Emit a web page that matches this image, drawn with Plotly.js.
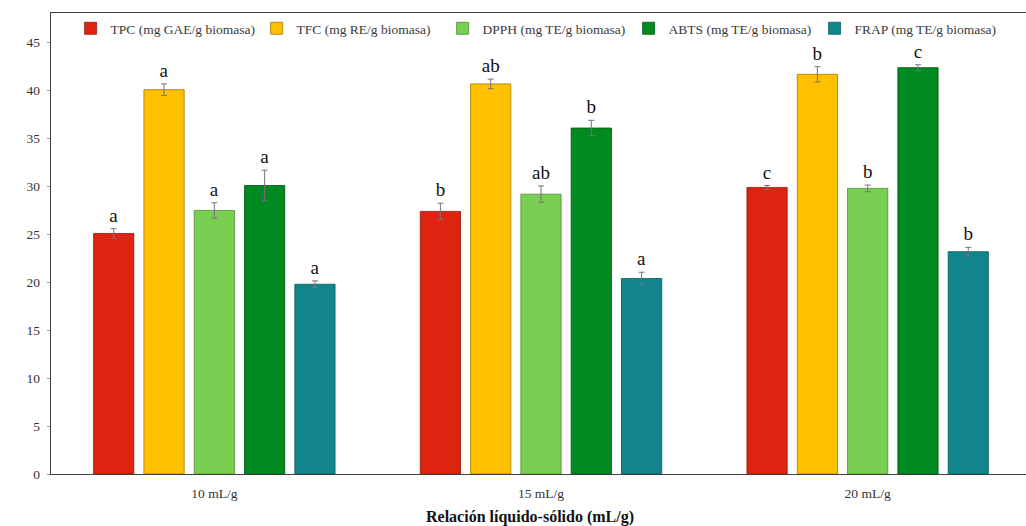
<!DOCTYPE html>
<html>
<head>
<meta charset="utf-8">
<script src="https://cdn.plot.ly/plotly-3.0.1.min.js"></script>
<style>
  html, body { margin: 0; padding: 0; background: #ffffff; overflow: hidden; }
  #chart { width: 1040px; height: 526px; }
</style>
</head>
<body>
<div id="chart"></div>
<script>
// Liquid-solid ratio levels
const categories = ['10 mL/g', '15 mL/g', '20 mL/g'];

// Series names
const seriesNames = [
  'TPC (mg GAE/g biomasa)',
  'TFC (mg RE/g biomasa)',
  'DPPH (mg TE/g biomasa)',
  'ABTS (mg TE/g biomasa)',
  'FRAP (mg TE/g biomasa)'
];

// Mean values per series (10, 15, 20 mL/g)
const tpc  = [25.1, 27.4, 29.9];
const tfc  = [40.1, 40.7, 41.7];
const dpph = [27.5, 29.2, 29.8];
const abts = [30.1, 36.1, 42.4];
const frap = [19.8, 20.4, 23.2];

// Standard deviations
const tpcErr  = [0.5, 0.85, 0.2];
const tfcErr  = [0.6, 0.5, 0.8];
const dpphErr = [0.8, 0.85, 0.35];
const abtsErr = [1.6, 0.8, 0.3];
const frapErr = [0.35, 0.65, 0.45];

// Significance letters
const tpcLetters  = ['a', 'b', 'c'];
const tfcLetters  = ['a', 'ab', 'b'];
const dpphLetters = ['a', 'ab', 'b'];
const abtsLetters = ['a', 'b', 'c'];
const frapLetters = ['a', 'a', 'b'];

const colors = ['#DE2410', '#FFC000', '#79CF52', '#008A1F', '#11848C'];
const outlines = ['#8a1a0a', '#a07800', '#4f8a35', '#005512', '#0b5a60'];

const values = [tpc, tfc, dpph, abts, frap];
const errors = [tpcErr, tfcErr, dpphErr, abtsErr, frapErr];
const letters = [tpcLetters, tfcLetters, dpphLetters, abtsLetters, frapLetters];

const serif = '"Liberation Serif", "Times New Roman", serif';
const traces = [];

values.forEach((vals, i) => {
  traces.push({
    type: 'bar',
    name: seriesNames[i],
    x: categories,
    y: vals,
    offsetgroup: 's' + i,
    marker: { color: colors[i], line: { color: outlines[i], width: 0.8 } },
    error_y: { type: 'data', array: errors[i], visible: true,
               color: '#7d6f86', thickness: 1, width: 3 },
    hoverinfo: 'x+y'
  });
});

// Transparent carriers that place each letter just above its error bar
values.forEach((vals, i) => {
  traces.push({
    type: 'bar',
    x: categories,
    y: vals.map((v, k) => v + errors[i][k]),
    offsetgroup: 's' + i,
    showlegend: false,
    hoverinfo: 'skip',
    marker: { color: 'rgba(0,0,0,0)', line: { width: 0 } },
    text: letters[i],
    textposition: 'outside',
    cliponaxis: false,
    constraintext: 'none',
    textfont: { family: serif, size: 19, color: '#111111' }
  });
});

const layout = {
  width: 1040,
  height: 526,
  margin: { l: 51, r: 9, t: 13, b: 52 },
  paper_bgcolor: '#ffffff',
  plot_bgcolor: '#ffffff',
  barmode: 'group',
  bargap: 0.23,
  bargroupgap: 0.2,
  showlegend: true,
  legend: {
    orientation: 'h',
    x: 0.02, xanchor: 'left',
    y: 1.0, yanchor: 'top',
    entrywidth: 141, entrywidthmode: 'pixels',
    font: { family: serif, size: 13.5, color: '#3a3a3a' },
    bgcolor: 'rgba(0,0,0,0)',
    traceorder: 'normal'
  },
  xaxis: {
    type: 'category',
    showline: true, linecolor: '#404040', linewidth: 1.2, mirror: true,
    ticks: '', ticklabelstandoff: 7,
    tickfont: { family: serif, size: 13.5, color: '#333333' },
    showgrid: false, zeroline: false
  },
  yaxis: {
    range: [0, 48.1],
    dtick: 5, tick0: 0,
    showline: true, linecolor: '#404040', linewidth: 1.2, mirror: true,
    ticks: 'outside', ticklen: 3, tickcolor: '#999999',
    ticklabelstandoff: 4,
    tickfont: { family: serif, size: 13.5, color: '#333333' },
    showgrid: false, zeroline: false
  },
  annotations: [{
    text: '<b>Relación líquido-sólido (mL/g)</b>',
    xref: 'paper', yref: 'paper',
    x: 0.489, y: 0, yshift: -43,
    xanchor: 'center', yanchor: 'middle',
    showarrow: false,
    font: { family: serif, size: 16, color: '#111111' }
  }]
};

Plotly.newPlot('chart', traces, layout, { displayModeBar: false, staticPlot: true });
</script>
</body>
</html>
